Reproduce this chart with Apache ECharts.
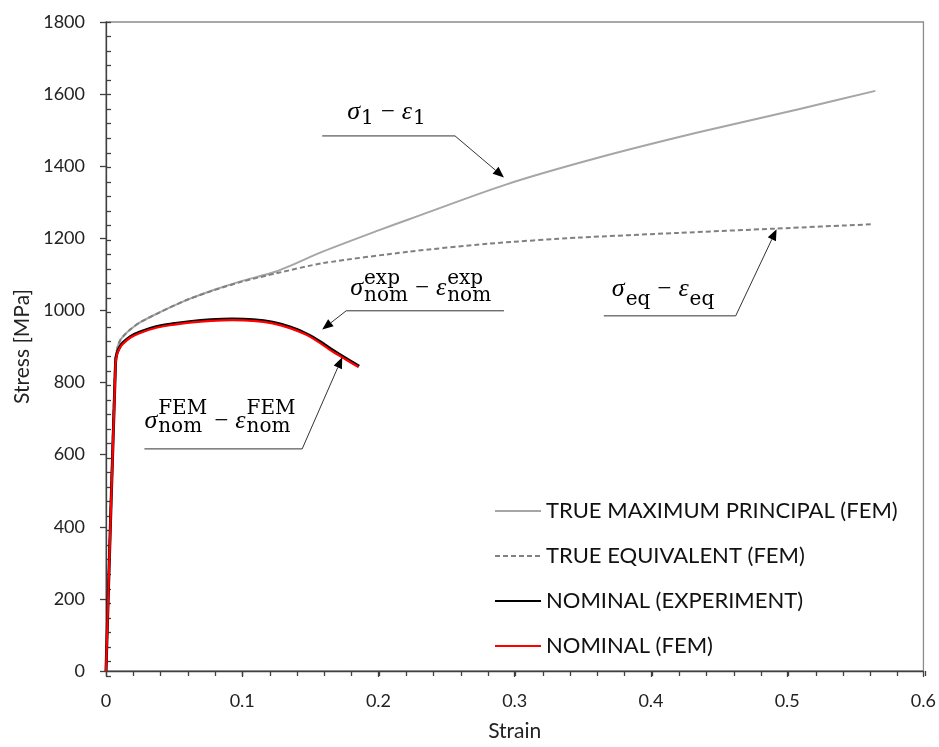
<!DOCTYPE html>
<html><head><meta charset="utf-8">
<script src="https://cdn.jsdelivr.net/npm/echarts@6/dist/echarts.min.js"></script>
<style>html,body{margin:0;padding:0;background:#fff}#c{width:939px;height:747px}</style>
</head><body><div id="c"></div>
<script>
// ---------- data ----------
const seriesNames = ['TRUE MAXIMUM PRINCIPAL (FEM)', 'TRUE EQUIVALENT (FEM)', 'NOMINAL (EXPERIMENT)', 'NOMINAL (FEM)'];

const strainMaxP = [0, 0.0068, 0.0085, 0.0105, 0.0135, 0.018, 0.025, 0.0368, 0.049, 0.0612, 0.080, 0.100, 0.1248, 0.159, 0.2, 0.2225, 0.2934, 0.3617, 0.435, 0.5084, 0.5647];
const stressMaxP = [0, 860, 898, 918, 932, 948, 967, 990, 1012, 1032, 1058, 1082, 1108, 1163, 1222, 1253, 1349, 1424, 1494, 1558, 1609];

const strainEq = [0, 0.0068, 0.0085, 0.0105, 0.0135, 0.018, 0.025, 0.0368, 0.049, 0.0612, 0.080, 0.100, 0.125, 0.159, 0.2225, 0.28, 0.347, 0.42, 0.4914, 0.562];
const stressEq = [0, 860, 898, 918, 932, 948, 967, 990, 1012, 1032, 1057, 1080, 1103, 1131, 1163, 1185, 1202, 1215, 1227, 1239];

const strainNomExp = [0, 0.0070, 0.0080, 0.0100, 0.0123, 0.018, 0.0246, 0.0368, 0.049, 0.0612, 0.077, 0.093, 0.108, 0.1223, 0.135, 0.1467, 0.157, 0.1663, 0.176, 0.1858];
const stressNomExp = [0, 855, 880, 898, 910, 928, 940, 955, 963, 969, 974, 976, 974, 967, 954, 936, 914, 890, 867, 845];

const strainNomFem = [0, 0.0070, 0.0080, 0.0100, 0.0123, 0.018, 0.0246, 0.0368, 0.049, 0.0612, 0.077, 0.093, 0.108, 0.1223, 0.135, 0.1467, 0.157, 0.1663, 0.176, 0.1853];
const stressNomFem = [0, 852, 877, 895, 907, 925, 937, 952, 960, 966, 971, 973, 971, 964, 951, 933, 910, 886, 864, 843];

// annotation leader lines in data coords: [start of horizontal part, elbow, arrow tip]
const annLeader1 = [[0.1587, 1484], [0.2562, 1484], [0.2921, 1369]];
const annLeader2 = [[0.3654, 985], [0.4622, 985], [0.4922, 1225]];
const annLeader3 = [[0.2921, 999], [0.1763, 999], [0.1587, 947]];
const annLeader4 = [[0.0282, 616], [0.1440, 616], [0.1734, 870]];

// annotation math labels
const annLabel1 = [{m: 'σ'}, {sub: '1'}, {op: '−'}, {m: 'ε'}, {sub: '1'}];
const annLabel2 = [{m: 'σ'}, {sub: 'eq'}, {op: '−'}, {m: 'ε'}, {sub: 'eq'}];
const annLabel3 = [{m: 'σ'}, {sup: 'exp', sub: 'nom'}, {op: '−'}, {m: 'ε'}, {sup: 'exp', sub: 'nom'}];
const annLabel4 = [{m: 'σ'}, {sup: 'FEM', sub: 'nom'}, {op: '−'}, {m: 'ε'}, {sup: 'FEM', sub: 'nom'}];

const zip = (a, b) => a.map((v, i) => [v, b[i]]);

// ---------- chart ----------
const chart = echarts.init(document.getElementById('c'), null, {renderer: 'canvas'});
const FONT = 'Lato';
const gridRect = {left: 106, top: 22, width: 819, height: 654};
const axisColor = '#404040';

const baseX = {type: 'value', min: 0, max: 0.6, interval: 0.1, splitLine: {show: false}};
const baseY = {type: 'value', min: 0, max: 1800, interval: 200, splitLine: {show: false}};

const option = {
  animation: false,
  backgroundColor: '#fff',
  grid: [
    Object.assign({show: true, borderColor: '#8c8c8c', borderWidth: 1.3, backgroundColor: 'transparent'}, gridRect),
    Object.assign({show: false}, gridRect)
  ],
  xAxis: [
    Object.assign({}, baseX, {
      gridIndex: 0,
      name: 'Strain', nameLocation: 'middle', nameGap: 50,
      nameTextStyle: {fontFamily: FONT, fontSize: 21, color: '#222'},
      axisLine: {show: true, onZero: false, lineStyle: {color: axisColor, width: 1.3}},
      axisTick: {show: true, inside: false, length: 6, lineStyle: {color: axisColor, width: 1.3}},
      axisLabel: {margin: 21, fontFamily: FONT, fontSize: 18, color: '#222', formatter: v => String(+v.toFixed(2))}
    }),
    Object.assign({}, baseX, {
      gridIndex: 1,
      axisLine: {show: false},
      axisLabel: {show: false},
      axisTick: {show: true, inside: true, length: 5, lineStyle: {color: axisColor, width: 1.3}},
      minorTick: {show: true, splitNumber: 5, length: 5, lineStyle: {color: axisColor, width: 1.3}}
    })
  ],
  yAxis: [
    Object.assign({}, baseY, {
      gridIndex: 0,
      name: 'Stress [MPa]', nameLocation: 'middle', nameGap: 71, nameRotate: 90,
      nameTextStyle: {fontFamily: FONT, fontSize: 21, color: '#222'},
      axisLine: {show: true, onZero: false, lineStyle: {color: axisColor, width: 1.3}},
      axisTick: {show: true, inside: false, length: 6, lineStyle: {color: axisColor, width: 1.3}},
      axisLabel: {margin: 21, fontFamily: FONT, fontSize: 18, color: '#222', formatter: v => String(v)}
    }),
    Object.assign({}, baseY, {
      gridIndex: 1,
      axisLine: {show: false},
      axisLabel: {show: false},
      axisTick: {show: true, inside: true, length: 5, lineStyle: {color: axisColor, width: 1.3}},
      minorTick: {show: true, splitNumber: 5, length: 5, lineStyle: {color: axisColor, width: 1.3}}
    })
  ],
  legend: {
    orient: 'vertical', left: 494, top: 500, padding: 0,
    itemWidth: 46, itemHeight: 12, itemGap: 23,
    itemStyle: {opacity: 0},
    textStyle: {fontFamily: FONT, fontSize: 22, color: '#111'},
    data: seriesNames
  },
  series: [
    {name: seriesNames[0], type: 'line', data: zip(strainMaxP, stressMaxP), symbol: 'none', showSymbol: false,
     smooth: 0.25, lineStyle: {color: '#a6a6a6', width: 2}, itemStyle: {color: '#a6a6a6'}, z: 2},
    {name: seriesNames[1], type: 'line', data: zip(strainEq, stressEq), symbol: 'none', showSymbol: false,
     smooth: 0.25, lineStyle: {color: '#808080', width: 2, type: [5, 3]}, itemStyle: {color: '#808080'}, z: 3},
    {name: seriesNames[2], type: 'line', data: zip(strainNomExp, stressNomExp), symbol: 'none', showSymbol: false,
     smooth: 0.25, lineStyle: {color: '#000', width: 3}, itemStyle: {color: '#000'}, z: 4},
    {name: seriesNames[3], type: 'line', data: zip(strainNomFem, stressNomFem), symbol: 'none', showSymbol: false,
     smooth: 0.25, lineStyle: {color: '#ff0000', width: 2.2}, itemStyle: {color: '#ff0000'}, z: 5}
  ]
};
chart.setOption(option);

// ---------- annotations ----------
const cv = document.createElement('canvas').getContext('2d');
function measure(t, f) { cv.font = f; return cv.measureText(t).width; }
const MAIN_SIZE = 26, SCR_SIZE = 20, OP_SIZE = 25;
const MAIN = 'italic ' + MAIN_SIZE + 'px "Liberation Serif"';
const SCR = SCR_SIZE + 'px "DejaVu Serif"';
const OP = OP_SIZE + 'px "Liberation Serif"';

function textEl(t, x, baseline, font, size) {
  return {type: 'text', x: x, y: baseline - 0.32 * size, z: 100,
    style: {text: t, font: font, fill: '#000', align: 'left', verticalAlign: 'middle'}};
}

function mathLabel(pieces, x0, base, subDy, supDy) {
  const els = [];
  let x = x0;
  pieces.forEach(p => {
    if (p.m) {
      els.push(textEl(p.m, x, base, MAIN, MAIN_SIZE));
      x += measure(p.m, MAIN) + 1;
    } else if (p.op) {
      x += 7;
      els.push(textEl(p.op, x, base, OP, OP_SIZE));
      x += measure(p.op, OP) + 7;
    } else {
      let w = 0;
      if (p.sup) { els.push(textEl(p.sup, x, base + supDy, SCR, SCR_SIZE)); w = Math.max(w, measure(p.sup, SCR)); }
      if (p.sub) { els.push(textEl(p.sub, x, base + subDy, SCR, SCR_SIZE)); w = Math.max(w, measure(p.sub, SCR)); }
      x += w;
    }
  });
  return els;
}

function leader(pts) {
  const px = pts.map(p => chart.convertToPixel({gridIndex: 0}, p));
  const tip = px[2], el = px[1];
  const dx = tip[0] - el[0], dy = tip[1] - el[1];
  const L = Math.hypot(dx, dy), ux = dx / L, uy = dy / L;
  const aL = 11, aW = 4.5;
  const base = [tip[0] - ux * aL, tip[1] - uy * aL];
  return [
    {type: 'polyline', z: 90, shape: {points: [px[0], px[1], base]}, style: {stroke: '#333', lineWidth: 1, fill: null}},
    {type: 'polygon', z: 91, shape: {points: [tip, [base[0] - uy * aW, base[1] + ux * aW], [base[0] + uy * aW, base[1] - ux * aW]]},
     style: {fill: '#000'}}
  ];
}

const anns = [
  {lead: annLeader1, label: annLabel1, anchor: 0, dx: 25, dy: -15.5, subDy: 5, supDy: -12},
  {lead: annLeader2, label: annLabel2, anchor: 0, dx: 8, dy: -18, subDy: 8, supDy: -12},
  {lead: annLeader3, label: annLabel3, anchor: 1, dx: 4, dy: -14, subDy: 5, supDy: -12},
  {lead: annLeader4, label: annLabel4, anchor: 0, dx: 0, dy: -19, subDy: 3, supDy: -15}
];
const graphics = [];
anns.forEach(a => {
  graphics.push(...leader(a.lead));
  const p = chart.convertToPixel({gridIndex: 0}, a.lead[a.anchor]);
  graphics.push(...mathLabel(a.label, p[0] + a.dx, p[1] + a.dy, a.subDy, a.supDy));
});
chart.setOption({graphic: graphics});
</script>
</body></html>
